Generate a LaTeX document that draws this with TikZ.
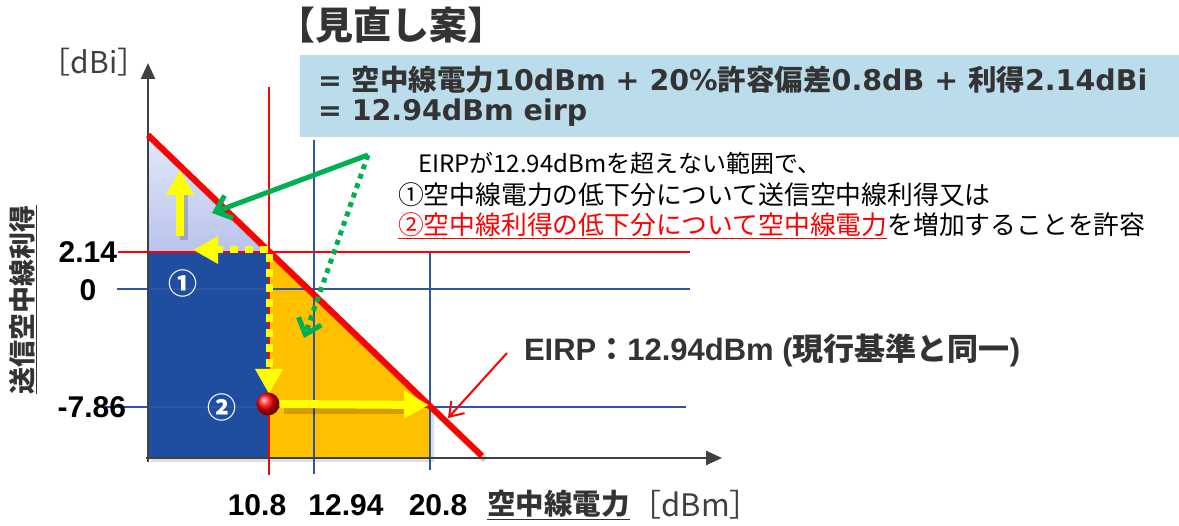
\documentclass[tikz,border=0pt]{standalone}
\usepackage{fontspec}
\setmainfont{Liberation Sans}
\newfontfamily\jp{Noto Sans CJK JP}
\newfontfamily\dvs{DejaVu Sans}
\usetikzlibrary{arrows.meta,shadings}
\definecolor{dkblue}{RGB}{31,78,160}
\definecolor{gridblue}{RGB}{47,85,165}
\definecolor{orng}{RGB}{255,192,0}
\definecolor{lbtop}{RGB}{228,233,249}
\definecolor{lbbot}{RGB}{184,195,236}
\definecolor{boxblue}{RGB}{187,220,235}
\definecolor{txtgray}{RGB}{51,51,51}
\definecolor{axgray}{RGB}{64,64,64}
\definecolor{grn}{RGB}{0,176,80}
\definecolor{ylw}{RGB}{255,255,0}
\newcommand\jb{\jp\bfseries}
\newcommand\db{\dvs\bfseries}
\tikzset{
  lbl/.style={inner sep=0pt, outer sep=0pt},
  ticklbl/.style={lbl, font=\bfseries\fontsize{30}{31}\selectfont, text=black},
  gridred/.style={draw=red, line width=1.2pt},
  gridbl/.style={draw=gridblue, line width=1.2pt},
  axis/.style={draw=axgray, line width=2.5pt, -{Triangle[length=16pt,width=14pt]}},
  yarrow/.style={draw=ylw, line width=8pt, -{Triangle[length=25pt,width=26pt]}},
  ydots/.style={draw=ylw, line width=7pt, dash pattern=on 8pt off 7pt, -{Triangle[length=25pt,width=26pt]}},
  garrow/.style={draw=grn, line width=5pt, -{Straight Barb[length=14pt,width=24pt]}},
  gdots/.style={draw=grn, line width=5pt, dash pattern=on 5pt off 5pt, -{Straight Barb[length=14pt,width=24pt]}},
  rarrow/.style={draw=red, line width=2pt, -{Straight Barb[length=13pt,width=18pt]}},
  shadow/.style={draw=black, opacity=0.18, line width=#1},
}
\begin{document}
\begin{tikzpicture}[x=1pt,y=-1pt]
\useasboundingbox (0,0) rectangle (1179,526);
% key points
\coordinate (O) at (148,458);
\coordinate (D1) at (148,135);
\coordinate (D2) at (482,456);
\coordinate (C1) at (269,252);
\coordinate (C2) at (430,406);
% fills (with faint shadow)
\fill[black, opacity=0.12] (151,255) -- (151,462) -- (434,462) -- (434,410) -- cycle;
\shade[top color=lbtop, bottom color=lbbot] (D1) -- (C1) -- (148,252) -- cycle;
\fill[dkblue] (148,252) rectangle (269,458);
\fill[orng] (C1) -- (C2) -- (430,458) -- (269,458) -- cycle;
% blue box
\fill[boxblue] (300,55) rectangle (1179,137);
% grid lines
\draw[gridred] (118,252) -- (690,252);
\draw[gridbl] (117,289) -- (690,289);
\draw[gridbl] (105,407) -- (686,407);
\draw[gridred] (269,87) -- (269,475);
\draw[gridbl] (314,140) -- (314,474);
\draw[gridbl] (430,253) -- (430,470);
% axes
\draw[axis] (148,462) -- (148,63);
\draw[axis] (146,458) -- (722,458);
% EIRP line
\draw[shadow=6pt] (151,139) -- (485,460);
\draw[red, line width=6pt] (D1) -- (D2);
% texts
\node[lbl, font=\jb\fontsize{38}{40}\selectfont, text=txtgray] (title) at (391,25) {【見直し案】};
\node[lbl, anchor=west, font=\fontsize{28.5}{32}\selectfont, text=txtgray] (f1) at (318,80)
  {\db= {\jb 空中線電力}10dBm + 20\%{\jb 許容偏差}0.8dB + {\jb 利得}2.14dBi};
\node[lbl, anchor=west, font=\fontsize{28.5}{32}\selectfont, text=txtgray] (f2) at (318,113)
  {\db= 12.94dBm eirp};
\node[lbl, anchor=west, font=\jp\fontsize{24}{26}\selectfont] (n1) at (418,163) {EIRPが12.94dBmを超えない範囲で、};
\node[lbl, anchor=west, font=\jp\fontsize{25.8}{28}\selectfont] (n2) at (398,195) {①空中線電力の低下分について送信空中線利得又は};
\node[lbl, anchor=west, font=\jp\fontsize{25.8}{28}\selectfont] (n3) at (398,226) {\textcolor{red}{\underline{②空中線利得の低下分について空中線電力}}を増加することを許容};
\node[lbl, anchor=west, font=\bfseries\fontsize{31}{33}\selectfont, text=txtgray] (eirp) at (524,350) {EIRP{\jb ：}12.94dBm ({\jb 現行基準と同一})};
\node[lbl, font=\jp\fontsize{30}{32}\selectfont, text=axgray] (yunit) at (94,62) {［dBi］};
\node[lbl, rotate=90, font=\jb\fontsize{27}{30}\selectfont, text=txtgray] (ylab) at (23,300) {\underline{送信空中線利得}};
\node[ticklbl, anchor=east] (t214) at (117,252) {2.14};
\node[ticklbl] (t0) at (88,290) {0};
\node[ticklbl, anchor=east] (t786) at (126,407) {-7.86};
\node[ticklbl] (x108) at (257,505) {10.8};
\node[ticklbl] (x1294) at (346,505) {12.94};
\node[ticklbl] (x208) at (438,505) {20.8};
\node[lbl, anchor=west, font=\jb\fontsize{28.5}{30}\selectfont, text=txtgray] (xlab) at (487,505) {\underline{空中線電力}};
\node[lbl, anchor=west, font=\jp\fontsize{31}{32}\selectfont, text=axgray] (xunit) at ([xshift=1pt]xlab.east) {［dBm］};
\node[lbl, font=\jb\fontsize{29}{30}\selectfont, text=white] (c1) at (183,283) {①};
\node[lbl, font=\jb\fontsize{29}{30}\selectfont, text=white] (c2) at (222,407) {②};
% arrows
\coordinate (u0) at (180,236);
\coordinate (u1) at (180,170);
\coordinate (lft) at (193,250);
\coordinate (dn) at (269,394);
\coordinate (p20) at (429,405);
\coordinate (g0) at (368,155);
\coordinate (g1) at (212,213);
\coordinate (g2) at (304,338);
\coordinate (r0) at (507,353);
\coordinate (r1) at (448,418);
\draw[shadow=8pt] (184,240) -- (184,190);
\draw[yarrow] (u0) -- (u1);
\draw[ydots] (268,250) -- (lft);
\draw[ydots] (269,254) -- (dn);
\node[circle, inner sep=0pt, minimum size=23pt, shading=ball, ball color=red] (ball) at (268,404) {};
\draw[shadow=8pt] (284,410) -- (408,410);
\draw[yarrow] (ball.east) -- (p20);
\draw[garrow] (g0) -- (g1);
\draw[gdots] (g0) -- (g2);
\draw[rarrow] (r0) -- (r1);
\end{tikzpicture}
\end{document}
